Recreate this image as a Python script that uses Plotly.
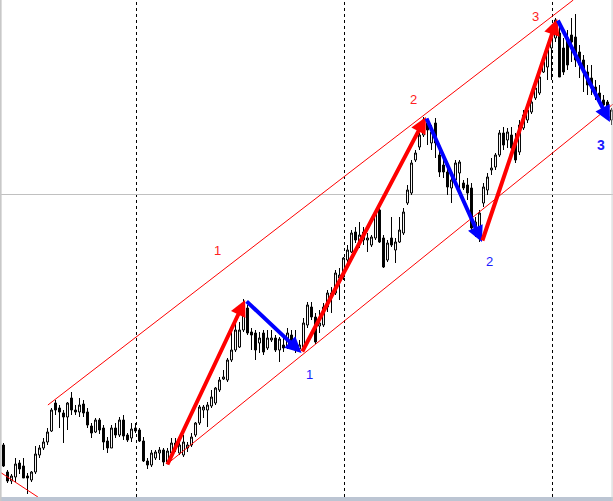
import plotly.graph_objects as go

# ---------------- data ----------------
bar_index = list(range(153))

open_ = [55, 28, 19, 23, 37, 34, 24, 20, 28, 45,
         52, 58, 69, 97, 92, 87, 83, 102, 90, 88,
         96, 88, 74, 68, 80, 72, 59, 52, 72, 65,
         80, 65, 62, 72, 70, 59, 39, 35, 42, 47,
         50, 38, 47, 57, 47, 45, 52, 55, 65, 77,
         90, 90, 94, 97, 110, 121, 120, 140, 150, 153,
         170, 192, 168, 167, 157, 167, 152, 160, 162, 150,
         155, 153, 165, 158, 151, 153, 175, 193, 183, 174,
         175, 193, 207, 207, 222, 223, 240, 248, 268, 258,
         260, 260, 255, 262, 290, 262, 240, 262, 250, 258,
         267, 297, 307, 340, 353, 365, 377, 357, 377, 345,
         335, 328, 312, 320, 327, 317, 315, 312, 270, 270,
         297, 310, 330, 333, 345, 367, 360, 365, 360, 348,
         372, 380, 388, 402, 407, 428, 433, 452, 462, 467,
         452, 462, 465, 463, 448, 440, 428, 422, 413, 407,
         400, 398, 380]

high_ = [57, 30, 26, 42, 40, 42, 27, 29, 54, 55,
         62, 72, 92, 100, 95, 90, 98, 108, 95, 102,
         100, 92, 77, 82, 82, 75, 63, 75, 77, 83,
         85, 67, 77, 77, 72, 63, 42, 50, 50, 53,
         52, 52, 62, 62, 62, 65, 58, 67, 78, 95,
         95, 98, 110, 113, 123, 130, 142, 170, 177, 178,
         201, 195, 172, 170, 168, 170, 170, 170, 165, 163,
         162, 172, 170, 170, 160, 182, 198, 198, 187, 190,
         197, 210, 213, 230, 232, 243, 255, 270, 273, 278,
         273, 267, 265, 288, 292, 265, 260, 283, 262, 283,
         292, 315, 340, 350, 367, 383, 380, 375, 382, 350,
         340, 335, 327, 340, 340, 320, 322, 317, 283, 290,
         317, 327, 342, 347, 370, 373, 372, 373, 367, 380,
         390, 395, 402, 415, 428, 442, 453, 465, 482, 480,
         462, 470, 482, 486, 455, 445, 435, 435, 420, 415,
         405, 400, 392]

low_ = [33, 17, 16, 18, 26, 22, 6, 18, 26, 42,
        50, 55, 68, 85, 72, 57, 70, 85, 85, 83,
        83, 72, 62, 67, 66, 50, 47, 52, 62, 63,
        60, 58, 58, 67, 58, 38, 31, 33, 40, 40,
        34, 36, 45, 48, 45, 43, 48, 53, 63, 75,
        82, 73, 92, 95, 108, 120, 118, 138, 148, 152,
        168, 165, 150, 140, 147, 145, 150, 158, 148, 138,
        148, 151, 151, 147, 148, 151, 172, 180, 156, 167,
        173, 188, 187, 205, 200, 220, 238, 247, 257, 252,
        255, 248, 253, 260, 257, 232, 238, 253, 237, 257,
        265, 295, 305, 338, 350, 363, 355, 350, 342, 323,
        322, 305, 297, 317, 310, 310, 300, 267, 263, 258,
        293, 305, 325, 330, 343, 350, 352, 350, 337, 345,
        370, 377, 386, 400, 405, 427, 420, 420, 458, 423,
        425, 430, 438, 433, 422, 408, 405, 405, 400, 395,
        388, 380, 375]

close_ = [34, 19, 24, 36, 31, 22, 22, 28, 46, 52,
          58, 68, 90, 90, 88, 83, 97, 90, 88, 95,
          87, 75, 67, 80, 70, 58, 52, 72, 65, 80,
          64, 60, 71, 69, 59, 39, 35, 47, 48, 50,
          38, 49, 57, 52, 55, 58, 55, 63, 77, 93,
          93, 95, 103, 112, 120, 123, 140, 150, 170, 170,
          190, 167, 165, 150, 162, 148, 162, 162, 150, 161,
          152, 167, 153, 150, 155, 177, 195, 183, 158, 177,
          193, 207, 203, 227, 225, 242, 250, 267, 260, 265,
          268, 262, 263, 287, 258, 233, 257, 255, 258, 270,
          288, 310, 337, 347, 365, 380, 370, 368, 357, 328,
          328, 313, 320, 337, 338, 312, 307, 272, 278, 287,
          313, 323, 332, 345, 367, 355, 368, 352, 340, 375,
          385, 390, 398, 412, 423, 438, 450, 462, 480, 423,
          428, 435, 458, 440, 435, 428, 415, 412, 405, 398,
          395, 393, 390]

# zigzag wave points (bar index, price)
wave_x = [40.8, 60.4, 74.5, 105.6, 119.6, 138.4, 151.6]
wave_y = [34, 200, 147, 383, 258, 481, 378]

# channel lines
upper_x = [11.1, 142.45]
upper_y = [95, 500]
lower_x = [40.9, 152.4]
lower_y = [36, 396]
prior_x = [-0.9, 8.6]
prior_y = [28, 3]

# period separators and bid level
separators = [33.25, 85.25, 137.25]
bid_level = 305.5

# wave labels
up_labels = ["1", "2", "3"]
up_label_x = [53.4, 102.6, 133.1]
up_label_y = [250, 401, 484]
down_labels = ["1", "2", "3"]
down_label_x = [76.6, 121.4, 149.4]
down_label_y = [126, 239, 355]

# ---------------- figure ----------------
fig = go.Figure()

fig.add_trace(go.Candlestick(
    x=bar_index, open=open_, high=high_, low=low_, close=close_,
    increasing=dict(line=dict(color="black", width=1), fillcolor="white"),
    decreasing=dict(line=dict(color="black", width=1), fillcolor="black"),
    whiskerwidth=0, hoverinfo="skip", showlegend=False,
))

for xs, ys in [(upper_x, upper_y), (lower_x, lower_y), (prior_x, prior_y)]:
    fig.add_trace(go.Scatter(x=xs, y=ys, mode="lines",
                             line=dict(color="#ff0000", width=1),
                             hoverinfo="skip", showlegend=False))

annotations = []
for k in range(len(wave_x) - 1):
    up = wave_y[k + 1] > wave_y[k]
    annotations.append(dict(
        x=wave_x[k + 1], y=wave_y[k + 1], ax=wave_x[k], ay=wave_y[k],
        xref="x", yref="y", axref="x", ayref="y", text="",
        showarrow=True, arrowhead=2, arrowsize=0.8, arrowwidth=4,
        arrowcolor="#ff0000" if up else "#0000ff", standoff=0,
    ))

for t, x, y in zip(up_labels, up_label_x, up_label_y):
    annotations.append(dict(x=x, y=y, xref="x", yref="y", text=t, showarrow=False,
                            font=dict(family="Liberation Sans, Arial", size=13, color="#ff2020")))
for i, (t, x, y) in enumerate(zip(down_labels, down_label_x, down_label_y)):
    txt = "<b>%s</b>" % t if i == 2 else t
    annotations.append(dict(x=x, y=y, xref="x", yref="y", text=txt, showarrow=False,
                            font=dict(family="Liberation Sans, Arial", size=14 if i == 2 else 13,
                                      color="#1a1aff")))

shapes = []
for s in separators:
    shapes.append(dict(type="line", xref="x", yref="paper", x0=s, x1=s, y0=0.008, y1=1,
                       line=dict(color="black", width=1, dash="3px,3px"), layer="below"))
shapes.append(dict(type="line", xref="paper", yref="y", x0=0, x1=1, y0=bid_level, y1=bid_level,
                   line=dict(color="#c0c0c0", width=1), layer="below"))
# frame: bottom scrollbar strip, left and right borders
shapes.append(dict(type="rect", xref="paper", yref="paper", x0=0, x1=1, y0=0, y1=0.008,
                   line=dict(width=0), fillcolor="#bcc5d3"))
shapes.append(dict(type="line", xref="paper", yref="paper", x0=0.001, x1=0.001, y0=0, y1=1,
                   line=dict(color="#c8c8c8", width=2)))
shapes.append(dict(type="line", xref="paper", yref="paper", x0=0.9985, x1=0.9985, y0=0, y1=1,
                   line=dict(color="#d0d0d0", width=1)))

fig.update_layout(
    width=613, height=501,
    margin=dict(l=0, r=0, t=0, b=0),
    paper_bgcolor="white", plot_bgcolor="white",
    showlegend=False,
    xaxis=dict(range=[-0.875, 152.375], visible=False, rangeslider=dict(visible=False),
               fixedrange=True),
    yaxis=dict(range=[-1, 500], visible=False, fixedrange=True),
    annotations=annotations,
    shapes=shapes,
)

fig.write_html("out.html", config={"displayModeBar": False},
               post_script="document.body.style.margin='0';document.body.style.overflow='hidden';")
